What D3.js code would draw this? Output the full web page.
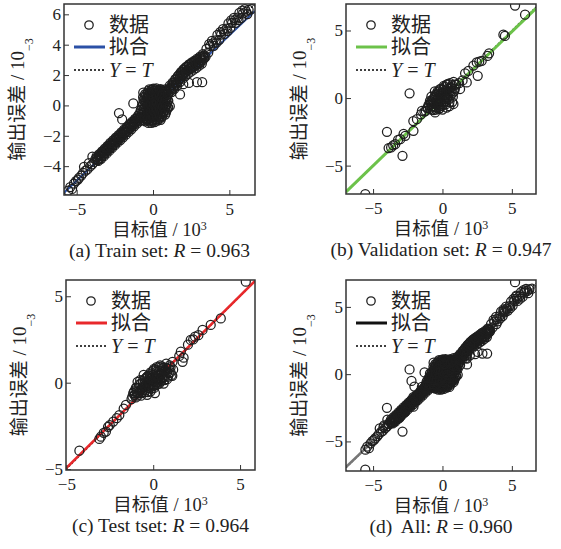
<!DOCTYPE html>
<html><head><meta charset="utf-8">
<script src="https://cdn.jsdelivr.net/npm/d3@7"></script>
<style>body{margin:0;background:#fff}</style>
</head><body><svg id="c" width="561" height="549"></svg>
<script>
// ---------- data (target, output) ----------
const trainPts = [
 [-5.55,-5.62],[-5.42,-5.38],[-5.3,-5.5],[-5.18,-5.15],[-5.05,-4.98],[-4.92,-4.88],[-4.85,-4.78],[-4.7,-4.62],[-4.52,-4.04],[-4.58,-4.45],[-4.42,-4.3],[-4.3,-4.22],[-4.2,-3.8],[-4.12,-4.02],[-3.97,-3.38],[-3.98,-3.88],[-3.85,-3.72],[-3.78,-3.55],
 [-3.70,-3.36],[-3.64,-3.54],[-3.58,-3.66],[-3.52,-3.2],[-3.46,-3.33],[-3.40,-3.52],[-3.34,-3.02],[-3.28,-3.15],[-3.22,-3.34],[-3.16,-2.84],[-3.10,-2.97],[-3.04,-3.16],[-2.98,-2.66],[-2.92,-2.79],[-2.86,-2.98],[-2.80,-2.47],[-2.74,-2.61],[-2.68,-2.8],[-2.62,-2.3],[-2.56,-2.43],[-2.50,-2.62],[-2.44,-2.12],[-2.38,-2.25],[-2.32,-2.44],[-2.26,-1.95],[-2.20,-2.09],[-2.14,-2.28],[-2.08,-1.78],[-2.02,-1.92],[-1.96,-2.1],[-1.90,-1.6],[-1.84,-1.74],[-1.78,-1.93],[-1.72,-1.42],[-1.66,-1.56],[-1.60,-1.75],[-1.54,-1.24],[-1.48,-1.38],[-1.42,-1.57],[-1.36,-1.06],[-1.30,-1.2],[-1.24,-1.38],[-1.18,-0.88],[-1.12,-1.02],[-1.06,-1.2],[-1.00,-0.7],[-0.94,-0.84],
 [-3.67,-3.44],[-3.61,-3.6],[-3.55,-3.32],[-3.49,-3.48],[-3.43,-3.2],[-3.37,-3.36],[-3.31,-3.08],[-3.25,-3.24],[-3.19,-2.96],[-3.13,-3.12],[-3.07,-2.84],[-3.01,-3.0],[-2.95,-2.72],[-2.89,-2.88],[-2.83,-2.6],[-2.77,-2.76],[-2.71,-2.48],[-2.65,-2.64],[-2.59,-2.36],[-2.53,-2.52],[-2.47,-2.24],[-2.41,-2.4],[-2.35,-2.12],[-2.29,-2.28],[-2.23,-2.0],[-2.17,-2.16],[-2.11,-1.88],[-2.05,-2.04],[-1.99,-1.76],[-1.93,-1.92],[-1.87,-1.64],[-1.81,-1.8],[-1.75,-1.52],[-1.69,-1.68],[-1.63,-1.4],[-1.57,-1.56],[-1.51,-1.28],[-1.45,-1.44],[-1.39,-1.16],[-1.33,-1.32],[-1.27,-1.04],[-1.21,-1.2],[-1.15,-0.92],[-1.09,-1.08],[-1.03,-0.8],[-0.97,-0.96],
 [-0.9,-0.55],[-0.9,-1.05],[-0.8,-0.3],[-0.8,-0.75],[-0.7,-0.95],[-0.7,-0.5],[-0.7,-0.05],[-0.62,0.35],[-0.64,0.85],[-0.6,-0.25],[-0.6,-0.7],
 [-0.5,-1.05],[-0.5,-0.6],[-0.5,-0.15],[-0.5,0.3],[-0.52,0.75],[-0.4,-0.85],[-0.4,-0.4],[-0.4,0.05],[-0.4,0.5],
 [-0.3,-1.15],[-0.3,-0.7],[-0.3,-0.25],[-0.3,0.2],[-0.3,0.65],[-0.3,0.95],[-0.2,-0.95],[-0.2,-0.5],[-0.2,-0.05],[-0.2,0.4],[-0.2,0.8],
 [-0.1,-1.15],[-0.1,-0.75],[-0.1,-0.3],[-0.1,0.15],[-0.1,0.6],[-0.1,1.0],[0,-0.95],[0,-0.5],[0,-0.05],[0,0.4],[0,0.8],[0.02,1.1],
 [0.1,-1.1],[0.1,-0.7],[0.1,-0.25],[0.1,0.2],[0.1,0.6],[0.1,0.95],[0.2,-0.9],[0.2,-0.45],[0.2,0.0],[0.2,0.45],[0.2,0.85],[0.22,1.12],
 [0.3,-1.0],[0.3,-0.6],[0.3,-0.15],[0.3,0.3],[0.3,0.7],[0.3,1.0],[0.4,-0.8],[0.4,-0.35],[0.4,0.1],[0.4,0.55],[0.4,0.95],
 [0.5,-0.95],[0.5,-0.55],[0.5,-0.1],[0.5,0.35],[0.5,0.8],[0.5,1.08],[0.6,-0.7],[0.6,-0.25],[0.6,0.2],[0.6,0.65],[0.6,1.0],
 [0.7,-0.45],[0.7,0.0],[0.7,0.45],[0.7,0.9],[0.8,-0.6],[0.8,-0.2],[0.8,0.25],[0.8,0.7],[0.8,1.05],[0.9,-0.3],[0.9,0.1],[0.9,0.55],[0.9,0.95],
 [1.0,-0.15],[1.0,0.3],[1.0,0.75],[1.05,1.05],
 [-0.85,-0.8],[-0.75,-0.3],[-0.75,-0.75],[-0.65,-0.5],[-0.65,0.1],[-0.65,0.55],[-0.55,-0.85],[-0.55,-0.4],[-0.55,0.05],[-0.55,0.5],[-0.45,-0.95],[-0.45,-0.6],[-0.45,-0.2],[-0.45,0.25],[-0.45,0.7],[-0.35,-0.9],[-0.35,-0.45],[-0.35,0.0],[-0.35,0.45],[-0.35,0.85],
 [-0.25,-1.05],[-0.25,-0.6],[-0.25,-0.15],[-0.25,0.3],[-0.25,0.75],[-0.25,1.05],[-0.15,-0.85],[-0.15,-0.4],[-0.15,0.05],[-0.15,0.5],[-0.15,0.9],[-0.05,-1.05],[-0.05,-0.6],[-0.05,-0.15],[-0.05,0.3],[-0.05,0.7],[-0.05,1.05],
 [0.05,-0.8],[0.05,-0.35],[0.05,0.1],[0.05,0.55],[0.05,0.95],[0.15,-0.95],[0.15,-0.5],[0.15,-0.05],[0.15,0.4],[0.15,0.8],[0.15,1.05],[0.25,-0.75],[0.25,-0.3],[0.25,0.15],[0.25,0.6],[0.25,0.95],
 [0.35,-0.9],[0.35,-0.45],[0.35,0.0],[0.35,0.45],[0.35,0.85],[0.45,-0.7],[0.45,-0.25],[0.45,0.2],[0.45,0.65],[0.45,1.0],[0.55,-0.8],[0.55,-0.4],[0.55,0.05],[0.55,0.5],[0.55,0.9],
 [0.65,-0.5],[0.65,-0.05],[0.65,0.4],[0.65,0.8],[0.75,-0.35],[0.75,0.1],[0.75,0.55],[0.75,0.95],[0.85,-0.45],[0.85,0.0],[0.85,0.4],[0.85,0.8],[0.95,-0.1],[0.95,0.35],[0.95,0.75],
 [1.10,1.30],[1.16,1.09],[1.22,0.88],[1.28,1.50],[1.34,1.30],[1.40,1.09],[1.46,1.73],[1.52,1.52],[1.58,1.32],[1.64,1.95],[1.70,1.75],[1.76,1.54],[1.82,2.18],[1.88,1.97],[1.94,1.76],[2.00,2.38],[2.06,2.16],[2.12,1.93],[2.18,2.54],[2.24,2.32],[2.30,2.10],[2.36,2.70],[2.42,2.46],[2.48,2.22],[2.54,2.83],[2.60,2.59],[2.66,2.35],[2.72,2.95],[2.78,2.71],[2.84,2.48],[2.90,3.08],[2.96,2.85],[3.02,2.62],[3.08,3.22],[3.14,2.99],[3.20,2.76],[3.26,3.38],[3.32,3.15],
 [1.13,1.18],[1.19,0.98],[1.25,1.35],[1.31,1.15],[1.37,1.52],[1.43,1.3],[1.49,1.7],[1.55,1.45],[1.61,1.88],[1.67,1.62],[1.73,2.05],[1.79,1.8],[1.85,2.2],[1.91,1.95],[1.97,2.32],[2.03,2.08],[2.09,2.45],[2.15,2.2],[2.21,2.56],[2.27,2.3],[2.33,2.64],[2.39,2.38],[2.45,2.72],[2.51,2.45],[2.57,2.78],[2.63,2.52],[2.69,2.85],[2.75,2.6],[2.81,2.92],[2.87,2.68],[2.93,3.0],[2.99,2.75],[3.05,3.1],[3.11,2.85],[3.17,3.18],[3.23,2.95],[3.29,3.28],[3.35,3.1],
 [3.38,3.30],[3.50,3.72],[3.62,3.48],[3.74,3.90],[3.86,4.25],[3.98,3.93],[4.10,4.29],[4.22,4.64],[4.34,4.32],[4.46,4.67],[4.58,5.02],[4.70,4.71],[4.82,5.06],[4.94,5.40],[5.06,5.10],[5.18,5.44],[5.30,5.77],[5.42,5.44],[5.54,5.78],[5.66,6.10],[5.78,5.76],[5.90,6.06],[6.02,6.34],[6.18,6.02],[6.26,6.30],[6.45,6.35],
 [3.44,3.20],[3.68,4.04],[3.92,4.09],[4.16,4.14],[4.40,4.82],[4.64,4.87],[4.88,4.90],[5.12,5.60],[5.36,5.61],[5.60,5.61],[5.84,6.24],[6.10,6.18],
 [-2.23,-0.5],[-2.02,-0.92],[-1.29,0.13],[1.77,0.72],[1.98,1.4],[2.35,1.48],[2.88,1.53],[3.22,1.53],[1.1,-0.05]
];
const valPts = [
 [5.23,6.84],[5.95,6.17],[4.39,4.69],[4.5,4.6],[3.36,3.31],[3.24,3.12],[2.83,2.76],[2.65,2.7],[2.47,2.64],[2.23,2.4],[1.87,2.02],[2.54,1.65],[1.63,1.83],[1.75,1.16],[1.45,1.3],[1.27,0.67],[1.2,1.1],[0.79,-0.44],
 [-0.53,-1.06],[-1.48,-0.94],[-1.55,-1.2],[-1.84,-1.56],[-2.09,-2.42],[-2.1,-1.7],[-2.37,0.35],[-2.68,-2.79],[-2.8,-2.65],[-3.04,-3.04],[-3.2,-3.1],[-3.4,-3.41],[-3.55,-3.5],[-3.7,-3.65],[-3.88,-3.7],[-4.0,-2.5],[-2.88,-4.27],[-5.56,-7.1],
 [-1.1,-0.75],[-1.0,-0.5],[-0.9,-0.8],[-0.85,-0.3],[-0.75,-0.6],[-0.7,-0.1],[-0.65,-0.9],[-0.6,-0.4],[-0.55,0.1],[-0.5,-0.7],[-0.45,-0.2],[-0.4,0.3],[-0.35,-0.5],[-0.3,0.0],[-0.25,0.5],[-0.2,-0.3],[-0.15,0.2],[-0.1,0.7],[-0.05,-0.1],[0,0.4],[0.05,-0.5],[0.1,0.9],[0.15,0.1],[0.2,0.5],[0.25,-0.2],[0.3,1.0],[0.35,0.3],[0.4,0.7],[0.45,-0.1],[0.5,0.5],[0.55,1.1],[0.6,0.2],[0.65,0.8],[0.7,-0.3],[0.75,0.4],[0.8,1.2],[0.9,0.7],[-0.2,-0.75],[0.0,-0.85],[0.3,-0.7],[0.5,-0.6],[-0.55,0.5],[-0.8,0.1],[1.0,1.0],[-1.3,-1.0],
 [-1.2,-0.95],[-1.05,-0.7],[-0.95,-0.55],[-0.9,-0.2],[-0.8,-0.45],[-0.75,-0.85],[-0.7,-0.35],[-0.6,-0.65],[-0.6,0.0],[-0.5,-0.4],[-0.5,0.25],[-0.45,-0.85],[-0.4,-0.05],[-0.35,0.5],[-0.3,-0.35],[-0.25,-0.8],[-0.25,0.2],[-0.2,0.65],[-0.15,-0.15],[-0.1,0.35],[-0.05,-0.6],[0,0.05],[0.05,0.6],[0.1,-0.3],[0.15,0.8],[0.2,0.25],[0.25,-0.45],[0.3,0.55],[0.35,0.05],[0.4,1.05],[0.45,0.35],[0.5,-0.3],[0.55,0.75],[0.6,0.45],[0.7,0.95],[0.75,0.1],[0.85,0.5],[0.9,1.0],[-0.1,-0.45],[0.2,-0.05]
];
const testPts = [
 [5.33,5.84],[3.89,3.72],[3.31,3.34],[2.84,3.05],[2.6,2.75],[2.41,2.66],[2.3,2.5],[2.16,2.47],[2.0,2.2],[1.59,1.79],[1.69,1.21],[1.75,1.45],[1.5,1.55],[1.11,1.21],
 [-1.09,-0.71],[-1.57,-1.29],[-1.7,-1.5],[-1.95,-1.87],[-2.1,-2.05],[-2.3,-2.25],[-2.5,-2.45],[-2.6,-2.55],[-2.72,-2.83],[-2.85,-2.9],[-3.01,-3.12],[-3.1,-3.25],[-4.25,-3.93],
 [-1.2,-0.8],[-1.1,-0.5],[-1.0,-0.85],[-0.95,-0.3],[-0.85,-0.6],[-0.8,-0.1],[-0.7,-0.75],[-0.65,-0.35],[-0.6,0.1],[-0.5,-0.55],[-0.45,-0.15],[-0.4,0.3],[-0.35,-0.7],[-0.3,-0.3],[-0.25,0.1],[-0.2,0.5],[-0.15,-0.5],[-0.1,-0.1],[-0.05,0.3],[0,0.7],[0.05,-0.3],[0.1,0.1],[0.15,0.5],[0.2,0.9],[0.25,-0.1],[0.3,0.3],[0.35,0.7],[0.4,1.0],[0.45,0.1],[0.5,0.5],[0.55,0.85],[0.6,-0.05],[0.65,0.35],[0.7,0.7],[0.75,1.1],[0.8,0.2],[0.9,0.55],[1.0,0.9],[1.1,0.4],[1.15,0.75],[-0.55,0.45],[0.1,-0.6],[-0.9,0.05],
 [-1.15,-0.6],[-1.05,-0.7],[-0.95,-0.55],[-0.9,-0.75],[-0.85,-0.3],[-0.75,-0.45],[-0.7,-0.05],[-0.65,-0.6],[-0.55,-0.2],[-0.5,0.2],[-0.45,-0.45],[-0.4,-0.1],[-0.35,0.35],[-0.3,-0.55],[-0.25,-0.15],[-0.2,0.25],[-0.15,0.6],[-0.1,-0.35],[-0.05,0.1],[0,0.45],[0.05,0.8],[0.1,-0.15],[0.15,0.25],[0.2,0.65],[0.25,0.0],[0.3,0.45],[0.35,0.9],[0.4,0.2],[0.45,0.6],[0.5,0.95],[0.55,0.25],[0.6,0.65],[0.7,0.45],[0.75,0.85],[0.85,0.35],[0.9,0.8],[1.0,0.6],[-0.2,-0.3],
 [-1.25,-0.95],[-1.0,-0.3],[-0.8,-0.55],[-0.75,0.15],[-0.6,-0.45],[-0.5,0.0],[-0.4,-0.35],[-0.3,0.1],[-0.2,-0.1],[-0.1,0.2],[0.0,0.05],[0.0,-0.2],[0.1,0.35],[0.2,0.05],[0.3,0.15],[0.4,0.5],[0.5,0.3],[0.6,0.85],[0.65,0.15],[0.8,0.6],[0.95,1.0],[1.05,0.45],[0.35,-0.05],[-0.3,0.4],[0.15,0.75]
];
const allPts = trainPts.concat(valPts, testPts);

const fitSlopes = [0.957, 0.992, 0.996, 0.985];
const fitIntercepts = [-0.17, -0.05, 0.05, -0.06];
const panelTags = ["(a) Train set: ", "(b) Validation set: ", "(c) Test tset: ", "(d)  All: "];
const rValues = ["0.963", "0.947", "0.964", "0.960"];
const xTicks = [[-5,0,5],[-5,0,5],[-5,0,5],[-5,0,5]];
const yTicks = [[-4,-2,0,2,4,6],[-5,0,5],[-5,0,5],[-5,0,5]];
const legendLabels = ["数据", "拟合", "Y = T"];
const xLabel = "目标值 / 10", xLabelSup = "3";
const yLabel = "输出误差 / 10", yLabelSup = "−3";

// ---------- layout / style ----------
const SERIF = "'Liberation Serif','Times New Roman','Noto Sans CJK SC',serif";
const layouts = [
 {x0:64, x1:255, y0:4, y1:195, xd:[-5.83,6.68], yd:[-5.9,6.68]},
 {x0:346, x1:536, y0:4, y1:194, xd:[-6.95,6.74], yd:[-7.1,6.96]},
 {x0:66, x1:255, y0:280, y1:470, xd:[-5.02,5.86], yd:[-5.05,5.94]},
 {x0:346, x1:536, y0:280, y1:471, xd:[-6.95,6.74], yd:[-7.2,7.0]}
];
const fitColors = ["#2b50a6", "#6cc24a", "#e8282b", "#777"];
const fitLegendColors = ["#2b50a6", "#6cc24a", "#e8282b", "#111"];
const fitWidths = [2, 3, 2.5, 2.5];
const datasets = [trainPts, valPts, testPts, allPts];

const svg = d3.select("#c");
const fmt = d => (d < 0 ? "−" : "") + Math.abs(d);

datasets.forEach((pts, i) => {
  const L = layouts[i];
  const x = d3.scaleLinear().domain(L.xd).range([L.x0, L.x1]);
  const y = d3.scaleLinear().domain(L.yd).range([L.y1, L.y0]);

  svg.append("clipPath").attr("id", "clip" + i)
    .append("rect").attr("x", L.x0).attr("y", L.y0).attr("width", L.x1 - L.x0).attr("height", L.y1 - L.y0);
  const g = svg.append("g").attr("clip-path", `url(#clip${i})`);

  const fx = L.xd;
  // Y = T (under the fit line)
  g.append("line")
    .attr("x1", x(fx[0])).attr("y1", y(fx[0])).attr("x2", x(fx[1])).attr("y2", y(fx[1]))
    .attr("stroke", "#000").attr("stroke-width", 1.2).attr("stroke-dasharray", "2,2");
  // fit line
  g.append("line")
    .attr("x1", x(fx[0])).attr("y1", y(fitSlopes[i]*fx[0] + fitIntercepts[i]))
    .attr("x2", x(fx[1])).attr("y2", y(fitSlopes[i]*fx[1] + fitIntercepts[i]))
    .attr("stroke", fitColors[i]).attr("stroke-width", fitWidths[i]);
  // points
  g.selectAll("circle").data(pts).join("circle")
    .attr("cx", d => x(d[0])).attr("cy", d => y(d[1])).attr("r", 4.5)
    .attr("fill", "none").attr("stroke", "#1e1e1e").attr("stroke-width", 1.25);

  // box
  svg.append("rect").attr("x", L.x0).attr("y", L.y0).attr("width", L.x1 - L.x0).attr("height", L.y1 - L.y0)
    .attr("fill", "none").attr("stroke", "#333").attr("stroke-width", 1.5);

  // axes
  const gx = svg.append("g").attr("transform", `translate(0,${L.y1})`)
    .call(d3.axisBottom(x).tickValues(xTicks[i]).tickSize(-5).tickPadding(8).tickFormat(fmt));
  gx.select(".domain").remove();
  gx.attr("font-family", SERIF).attr("font-size", 17);
  gx.selectAll("text").attr("fill", "#222");
  gx.selectAll("line").attr("stroke", "#333");
  const gy = svg.append("g").attr("transform", `translate(${L.x0},0)`)
    .call(d3.axisLeft(y).tickValues(yTicks[i]).tickSize(-5).tickPadding(3).tickFormat(fmt));
  gy.select(".domain").remove();
  gy.attr("font-family", SERIF).attr("font-size", 17);
  gy.selectAll("text").attr("fill", "#222");
  gy.selectAll("line").attr("stroke", "#333");

  // legend
  const lg = svg.append("g").attr("font-family", SERIF).attr("font-size", 20).attr("fill", "#222");
  lg.append("circle").attr("cx", L.x0 + 25).attr("cy", L.y0 + 21).attr("r", 4.2)
    .attr("fill", "none").attr("stroke", "#222").attr("stroke-width", 1.3);
  lg.append("line").attr("x1", L.x0 + 10).attr("x2", L.x0 + 41).attr("y1", L.y0 + 43).attr("y2", L.y0 + 43)
    .attr("stroke", fitLegendColors[i]).attr("stroke-width", 3);
  lg.append("line").attr("x1", L.x0 + 10).attr("x2", L.x0 + 41).attr("y1", L.y0 + 66).attr("y2", L.y0 + 66)
    .attr("stroke", "#000").attr("stroke-width", 1.3).attr("stroke-dasharray", "2,2");
  lg.append("text").attr("x", L.x0 + 45).attr("y", L.y0 + 28).text(legendLabels[0]);
  lg.append("text").attr("x", L.x0 + 45).attr("y", L.y0 + 50).text(legendLabels[1]);
  const yt = lg.append("text").attr("x", L.x0 + 45).attr("y", L.y0 + 73);
  const parts = legendLabels[2].split(" ");
  yt.append("tspan").attr("font-style", "italic").text(parts[0]);
  yt.append("tspan").text(" " + parts[1] + " ");
  yt.append("tspan").attr("font-style", "italic").text(parts[2]);

  // x label
  const cx = (L.x0 + L.x1) / 2;
  const xl = svg.append("text").attr("x", cx).attr("y", L.y1 + 40.5).attr("text-anchor", "middle")
    .attr("font-family", SERIF).attr("font-size", 18.5).attr("fill", "#222");
  xl.append("tspan").text(xLabel);
  xl.append("tspan").attr("dy", "-0.45em").attr("font-size", 12).text(xLabelSup);

  // y label (superscript drawn on the plot side, as in the reference)
  const cy = (L.y0 + L.y1) / 2;
  const yl = svg.append("text").attr("transform", `translate(${L.x0 - 40},${cy}) rotate(-90)`)
    .attr("text-anchor", "middle").attr("font-family", SERIF).attr("font-size", 19).attr("fill", "#222");
  yl.append("tspan").text(yLabel);
  yl.append("tspan").attr("dy", "0.75em").attr("font-size", 12).text(yLabelSup);

  // caption
  const cap = svg.append("text").attr("x", cx).attr("y", L.y1 + 62).attr("text-anchor", "middle")
    .attr("font-family", SERIF).attr("font-size", 19.5).attr("fill", "#222").attr("xml:space", "preserve");
  cap.append("tspan").text(panelTags[i]);
  cap.append("tspan").attr("font-style", "italic").text("R");
  cap.append("tspan").text(" = " + rValues[i]);
});
</script>
</body></html>
